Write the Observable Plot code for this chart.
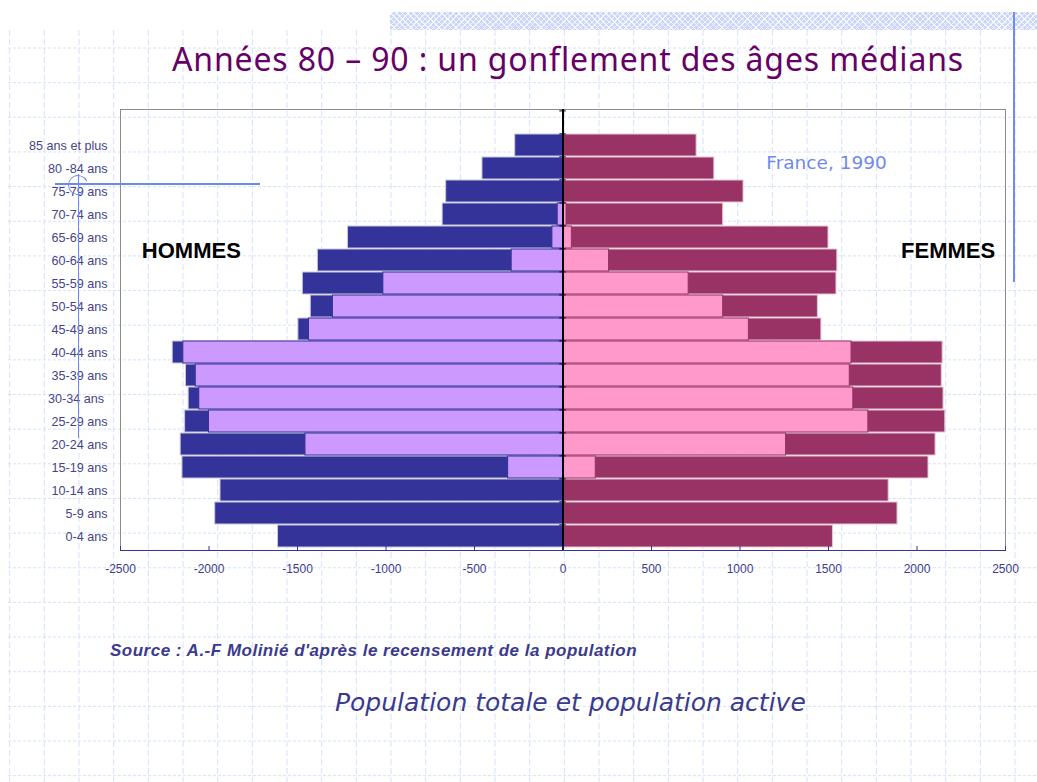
<!DOCTYPE html>
<html><head><meta charset="utf-8">
<script src="https://cdn.jsdelivr.net/npm/d3@7"></script>
<script src="https://cdn.jsdelivr.net/npm/@observablehq/plot@0.6"></script>
<style>
html,body{margin:0;padding:0;background:#fff;}
#page{position:relative;width:1037px;height:782px;overflow:hidden;font-family:"Liberation Sans",Arial,sans-serif;}
#grid{position:absolute;left:0;top:0;}
#band{position:absolute;left:390px;top:12px;width:647px;height:18px;background-color:#cbd6fb;
  background-image:repeating-linear-gradient(45deg,rgba(255,255,255,0.75) 0 1px,transparent 1px 4px),repeating-linear-gradient(-45deg,rgba(255,255,255,0.75) 0 1px,transparent 1px 4px);}
#vline{position:absolute;left:1013px;top:12px;width:2px;height:270px;background:#6f8cf0;}
#hline{position:absolute;left:55px;top:183px;width:205px;height:2px;background:#6a8af0;}
#vline2{position:absolute;left:78px;top:174px;width:1px;height:264px;background:#6a8af0;}
#arc{position:absolute;left:68px;top:175px;width:18px;height:18px;border-radius:50%;border:1px solid;border-color:#6a8af0 transparent #6a8af0 #6a8af0;transform:rotate(20deg);}
#title{position:absolute;left:172px;top:43px;font-family:"Comic Sans MS","Noto Sans",sans-serif;font-size:32px;line-height:32px;letter-spacing:0.85px;color:#660066;white-space:nowrap;}
#chart{position:absolute;left:0;top:80px;}
#source{position:absolute;left:110px;top:641px;font-size:17px;letter-spacing:0.5px;font-weight:bold;font-style:italic;color:#3a3a8e;white-space:nowrap;}
#subtitle{position:absolute;left:335px;top:688px;font-family:"DejaVu Sans",sans-serif;font-size:25px;font-style:italic;color:#3a3a8e;white-space:nowrap;}
</style>
</head><body>
<div id="page">
  <div id="band"></div>
  <div id="vline"></div>
  <div id="title">Années 80 – 90 : un gonflement des âges médians</div>
  <div id="chart"></div>
  <div id="hline"></div>
  <div id="vline2"></div>
  <div id="arc"></div>
  <div id="source">Source : A.-F Molinié d'après le recensement de la population</div>
  <div id="subtitle">Population totale et population active</div>
</div>
<script>
// ---- data (top to bottom) ----
const ages = ["85 ans et plus","80 -84 ans","75-79 ans","70-74 ans","65-69 ans","60-64 ans","55-59 ans","50-54 ans","45-49 ans","40-44 ans","35-39 ans","30-34 ans\u00a0","25-29 ans","20-24 ans","15-19 ans","10-14 ans","5-9 ans","0-4 ans"];
const menTotal    = [270, 455, 660, 680, 1215, 1385, 1470, 1425, 1495, 2205, 2130, 2115, 2135, 2160, 2150, 1935, 1965, 1610];
const menActive   = [0, 0, 0, 30, 60, 290, 1015, 1300, 1435, 2145, 2075, 2055, 2000, 1455, 310, 0, 0, 0];
const womenTotal  = [755, 855, 1020, 905, 1500, 1550, 1545, 1440, 1460, 2145, 2140, 2150, 2160, 2105, 2065, 1840, 1890, 1525];
const womenActive = [0, 0, 0, 20, 50, 260, 710, 905, 1050, 1630, 1620, 1640, 1725, 1260, 185, 0, 0, 0];
const xTicks = [-2500, -2000, -1500, -1000, -500, 0, 500, 1000, 1500, 2000, 2500];
const labels = [
  {text: "HOMMES", x: -2100, y: "60-64 ans"},
  {text: "FEMMES", x: 2176, y: "60-64 ans"}
];
const note = [{text: "France, 1990", x: 1149, y: "80 -84 ans"}];

// ---- background grid (slide decoration) ----
const g = d3.select("#page").insert("svg", ":first-child").attr("id", "grid").attr("width", 1037).attr("height", 782);
for (let x = 44.3 - 34.67; x < 1037; x += 34.67)
  g.append("line").attr("x1", x).attr("x2", x).attr("y1", 30).attr("y2", 782)
    .attr("stroke", "#d6e0fa").attr("stroke-dasharray", "6,3");
for (let y = 48; y < 782; y += 34.65)
  g.append("line").attr("x1", 8).attr("x2", 1037).attr("y1", y).attr("y2", y)
    .attr("stroke", "#d6e0fa").attr("stroke-dasharray", "3,2");

// ---- chart ----
const rows = ages.map((age, i) => ({age, mt: menTotal[i], ma: menActive[i], ft: womenTotal[i], fa: womenActive[i]}));
const yDomain = ["\u2007", ...ages];

const chart = Plot.plot({
  width: 1037, height: 520,
  marginLeft: 120, marginRight: 32, marginTop: 29, marginBottom: 50,
  style: {background: "transparent", fontFamily: "'Liberation Sans', Arial, sans-serif", overflow: "visible"},
  x: {domain: [-2500, 2500], axis: null, label: null},
  y: {domain: yDomain, axis: null, label: null, paddingInner: 0.04, paddingOuter: 0.02},
  marks: [
    Plot.barX(rows, {y: "age", x1: d => -d.mt, x2: 0, fill: "#333399", stroke: "#c8c8dc", strokeWidth: 1}),
    Plot.barX(rows.filter(d => d.ma > 0), {y: "age", x1: d => -d.ma, x2: 0, fill: "#cc99ff", stroke: "#333399", strokeWidth: 1}),
    Plot.barX(rows, {y: "age", x1: 0, x2: d => d.ft, fill: "#993366", stroke: "#e6c6d6", strokeWidth: 1}),
    Plot.barX(rows.filter(d => d.fa > 0), {y: "age", x1: 0, x2: d => d.fa, fill: "#ff99cc", stroke: "#993366", strokeWidth: 1}),
    Plot.frame({stroke: "#8c8c8c"}),
    Plot.frame({anchor: "bottom", stroke: "#333399"}),
    Plot.ruleX([0], {stroke: "#000", strokeWidth: 2}),
    Plot.ruleY(yDomain, {y: d => d, x1: -18, x2: 18, dy: -11.6, stroke: "#000"}),
    Plot.axisX(xTicks, {tickSize: -4, tickFormat: () => "", stroke: "#333399", label: null}),
    Plot.axisX(xTicks, {tickSize: 0, tickPadding: 14, tickFormat: d => String(d), fontSize: 12, fill: "#3d3d8f", label: null}),
    Plot.axisY(ages, {tickSize: 0, tickPadding: 13, fontSize: 12.6, fill: "#44448c", label: null}),
    Plot.text(labels, {x: "x", y: "y", text: "text", dy: -10, fontSize: 22, fontWeight: "bold", fill: "#000"}),
    Plot.text(note, {x: "x", y: "y", text: "text", dy: -5, textAnchor: "start", fontSize: 18.5, fontFamily: "DejaVu Sans", fill: "#7089ee"})
  ]
});
document.getElementById("chart").appendChild(chart);
</script>
</body></html>
